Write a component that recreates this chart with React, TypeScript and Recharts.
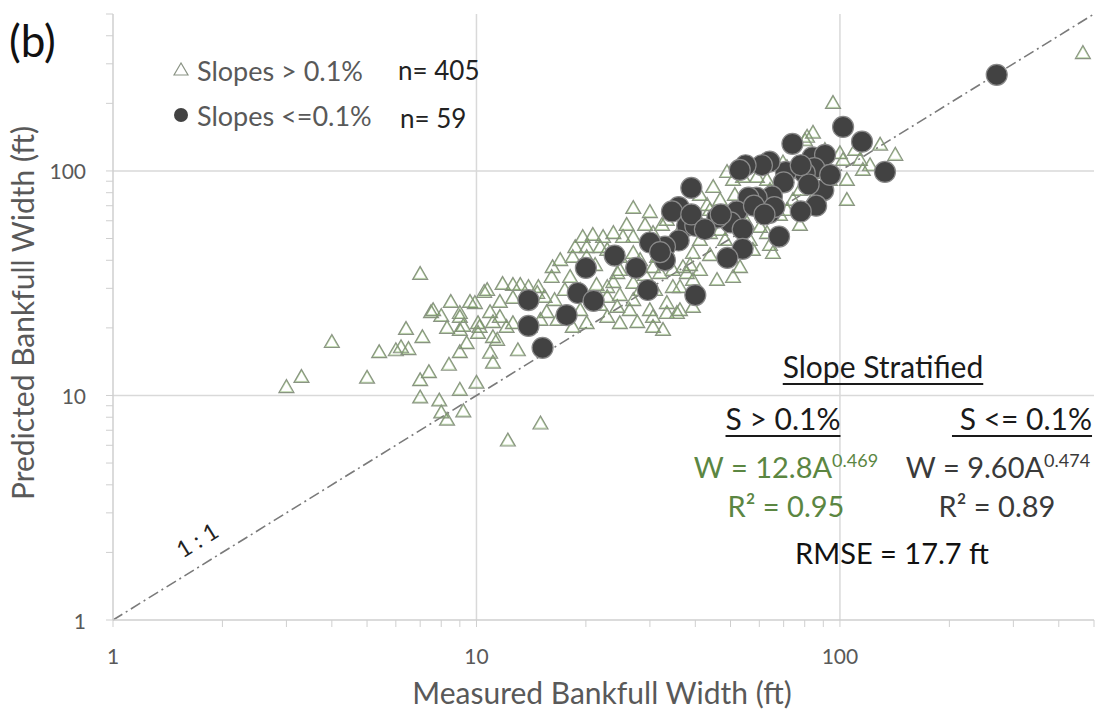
import { ReferenceLine, Scatter, ScatterChart, XAxis, YAxis } from 'recharts';

// [measured width (ft), predicted width (ft)] for slopes > 0.1%
const steepSlopePoints: [number, number][] = [
  [3.0, 10.9], [3.3, 12.1], [4.0, 17.3], [5.0, 12.0], [7.0, 34.8], [5.4, 15.6], [6.0, 15.9],
  [6.2, 16.4], [6.5, 16.1], [6.4, 19.8], [7.1, 18.2], [7.5, 23.5], [8.0, 22.6], [8.5, 26.1],
  [9.0, 23.3], [9.6, 26.1], [9.9, 25.8], [10.5, 28.9], [10.9, 23.5], [11.1, 21.2], [9.2, 20.4],
  [8.3, 20.0], [9.0, 15.6], [8.4, 13.7], [7.4, 12.7], [7.0, 11.7], [7.0, 9.8], [7.9, 9.5],
  [8.0, 8.4], [8.3, 7.8], [9.0, 10.6], [9.2, 8.5], [10.0, 11.4], [9.4, 17.1], [10.2, 20.2],
  [11.1, 18.2], [10.9, 15.5], [11.1, 14.0], [12.2, 6.3], [15.0, 7.5], [11.8, 31.4], [12.6, 31.1],
  [11.6, 26.1], [10.1, 21.0], [11.4, 17.7], [13.0, 15.9],
  [7.6, 24.0], [9.0, 22.4], [9.0, 19.6], [10.1, 19.0], [13.9, 30.4], [14.7, 28.6], [15.4, 27.5],
  [16.2, 37.3], [18.1, 33.7], [17.0, 40.1], [18.4, 41.4], [20.1, 45.8], [19.6, 50.8], [20.9, 51.9],
  [22.3, 50.8], [23.8, 52.9], [25.3, 50.8], [27.0, 50.8], [20.1, 41.4], [22.9, 44.5], [24.8, 41.4],
  [28.2, 40.1], [30.6, 37.3], [27.0, 68.4], [30.0, 65.6], [33.4, 60.5], [30.6, 52.9], [27.0, 43.1],
  [24.4, 35.1], [22.9, 30.4], [27.0, 31.7], [27.0, 26.6], [30.0, 24.0], [33.4, 23.3], [32.6, 19.6],
  [30.6, 20.2], [36.3, 24.0], [39.4, 24.8], [45.9, 32.7], [50.8, 33.7], [53.1, 37.3], [49.8, 41.4],
  [56.5, 49.3], [63.0, 52.9], [65.4, 43.1], [60.3, 56.3], [48.9, 98.9], [44.8, 84.8], [50.8, 91.2],
  [54.1, 94], [63.0, 91.2], [69.7, 94], [69.7, 109], [81.2, 142], [84.3, 148], [95.7, 201],
  [100, 120], [102, 112], [104.5, 91.2], [104.5, 74.3], [93.8, 91.2], [81.2, 88.3], [77.6, 82.3],
  [74.3, 74.3], [71.5, 67], [60.3, 67], [55.5, 58.6], [43.9, 67], [37.9, 56.3], [41.2, 49.3],
  [39.4, 43.1], [37.0, 37.3], [39.4, 32.7], [34.7, 30.4], [32.4, 57.5], [21.9, 45.8], [16.1, 33.7],
  [14.8, 30.4], [13.2, 31.1], [10.7, 29.5], [12.6, 27.2], [15.6, 23.5], [16.7, 21.7], [19.3, 24.0],
  [21.4, 31.1], [23.8, 32.0], [24.8, 36.2], [22.9, 27.5], [24.4, 24.8], [22.9, 22.4], [26.4, 24.0],
  [27.7, 21.2], [24.8, 21.0], [30.6, 22.4], [33.4, 25.8], [35.6, 23.3], [32.0, 35.1], [34.7, 36.2],
  [36.3, 30.4], [31.4, 41.4], [33.4, 44.5], [20.1, 21.0], [18.4, 20.2], [14.0, 20.2], [12.6, 21.0],
  [11.6, 22.4], [12.1, 20.2], [80.1, 137], [129, 131], [142, 118], [113.5, 112], [121, 106],
  [89.2, 98], [71.5, 104], [43.1, 70.5], [41.2, 56.3], [43.9, 52.9], [59.1, 94], [57.6, 44.5],
  [466, 335], [115.6, 101], [46.8, 74.3], [51.4, 78.2], [41.2, 78.2], [36.3, 54.6], [29.1, 57.5],
  [25.9, 57.5], [18.7, 45.8], [17.5, 29.5], [21.2, 38.1], [29.1, 34.4], [38.7, 38.1], [43.9, 42.2],
  [48.3, 49.3], [53.1, 67], [64.2, 82.3], [85.3, 78.2], [90.9, 124], [110, 124], [64.2, 46.8],
  [68.4, 63.7], [77.6, 57.5], [28.2, 29.5], [21.9, 25.3], [19.3, 29.5], [16.4, 26.6], [14.0, 26.6],
  [15.0, 21.7], [24.8, 28.0], [31.0, 29.5], [41.2, 36.2], [46.8, 54.6], [37.9, 35.1],
];

// [measured width (ft), predicted width (ft)] for slopes <= 0.1%
const flatSlopePoints: [number, number][] = [
  [102, 157], [115, 135], [133, 99], [270, 268], [74, 132], [84, 115], [91, 118], [85, 103],
  [80, 98], [71, 99], [70, 89], [64, 110], [61, 106], [55, 106], [90, 82], [86, 70], [78, 66],
  [68, 51], [65, 77], [64, 65], [59, 76], [56, 76], [52, 66], [50, 59], [54, 55], [54, 45],
  [49, 41], [46, 62], [39, 84], [36, 69], [34.5, 66], [38, 57], [40, 57], [36, 49], [33, 46],
  [33, 40], [30, 48], [27.5, 37], [24, 42], [20, 37], [19, 28.6], [21, 26.4], [17.7, 22.8],
  [13.9, 26.6], [13.9, 20.4], [15.2, 16.3], [29.6, 29.5], [40, 28], [66, 69], [58, 70], [82, 87],
  [53, 101], [32, 43.5], [39, 64], [78, 106], [42.5, 55], [62, 64], [47, 64], [94, 96],
];

const xTicks = [1, 2, 3, 4, 5, 6, 7, 8, 9, 10, 20, 30, 40, 50, 60, 70, 80, 90, 100, 200, 300, 400, 500];
const yTicks = xTicks;
const majorTicks = [1, 10, 100];
const gridValues = [10, 100];
const oneToOne = [1, 500];

const steepData = steepSlopePoints.map(([x, y]) => ({ x, y }));
const flatData = flatSlopePoints.map(([x, y]) => ({ x, y }));

const FONT = 'Lato, "Open Sans", sans-serif';
const AXIS_GRAY = '#595959';
const GRID = '#d9d9d9';
const GREEN = '#5b8642';

function TriangleMark(props: any) {
  const { cx, cy } = props;
  if (cx == null || cy == null) return null;
  return (
    <g>
      <polygon
        points={`${cx},${cy - 7.5} ${cx - 7.5},${cy + 5.5} ${cx + 7.5},${cy + 5.5}`}
        fill="none"
        stroke="#8a9384"
        strokeWidth={1.2}
      />
      <polygon
        points={`${cx},${cy - 6} ${cx - 6},${cy + 4.5} ${cx + 6},${cy + 4.5}`}
        fill="none"
        stroke="#5a9a2e"
        strokeWidth={0.7}
        strokeOpacity={0.5}
      />
    </g>
  );
}

function CircleMark(props: any) {
  const { cx, cy } = props;
  if (cx == null || cy == null) return null;
  return <circle cx={cx} cy={cy} r={10.5} fill="#424242" stroke="#8a8a8a" strokeWidth={1.2} />;
}

function XTick(props: any) {
  const { x, y, payload } = props;
  if (!majorTicks.includes(payload.value)) return null;
  return (
    <text x={x} y={y} textAnchor="middle" dominantBaseline="central" fill={AXIS_GRAY} fontSize={21} fontFamily={FONT}>
      {payload.value}
    </text>
  );
}

function YTick(props: any) {
  const { x, y, payload } = props;
  if (!majorTicks.includes(payload.value)) return null;
  return (
    <text x={x} y={y} textAnchor="end" dominantBaseline="central" fill={AXIS_GRAY} fontSize={21} fontFamily={FONT}>
      {payload.value}
    </text>
  );
}

const abs = (left: number, top: number, extra: React.CSSProperties = {}): React.CSSProperties => ({
  position: 'absolute',
  left,
  top,
  whiteSpace: 'nowrap',
  lineHeight: 1,
  fontFamily: FONT,
  ...extra,
});

const centered = { transform: 'translate(-50%, -50%)' };
const underline = { textDecoration: 'underline', textUnderlineOffset: 5, textDecorationThickness: 2 };

export default function App() {
  return (
    <div style={{ position: 'relative', width: 1095, height: 711, background: '#fff' }}>
      <style>{'body { margin: 0; }'}</style>
      <ScatterChart width={1095} height={711} margin={{ top: 14, right: 1, left: 0, bottom: 0 }}>
        <XAxis
          type="number"
          dataKey="x"
          scale="log"
          domain={[1, 500]}
          allowDataOverflow
          ticks={xTicks}
          interval={0}
          height={91}
          tick={<XTick />}
          tickSize={7}
          tickMargin={28}
          axisLine={{ stroke: '#cfcfcf', strokeWidth: 1.5 }}
          tickLine={{ stroke: '#cfcfcf' }}
        />
        <YAxis
          type="number"
          dataKey="y"
          scale="log"
          domain={[1, 500]}
          allowDataOverflow
          ticks={yTicks}
          interval={0}
          width={113}
          tick={<YTick />}
          tickSize={7}
          tickMargin={20}
          axisLine={{ stroke: '#cfcfcf', strokeWidth: 1.5 }}
          tickLine={{ stroke: '#cfcfcf' }}
        />
        {gridValues.map((v) => (
          <ReferenceLine key={`gx${v}`} x={v} stroke={GRID} strokeWidth={1.5} />
        ))}
        {gridValues.map((v) => (
          <ReferenceLine key={`gy${v}`} y={v} stroke={GRID} strokeWidth={1.5} />
        ))}
        <ReferenceLine
          segment={[
            { x: oneToOne[0], y: oneToOne[0] },
            { x: oneToOne[1], y: oneToOne[1] },
          ]}
          stroke="#7a7a7a"
          strokeWidth={1.6}
          strokeDasharray="11 4 2 4"
        />
        <Scatter data={steepData} shape={<TriangleMark />} isAnimationActive={false} />
        <Scatter data={flatData} shape={<CircleMark />} isAnimationActive={false} />
      </ScatterChart>

      <div style={abs(9, 18, { fontSize: 44, color: '#111' })}>(b)</div>

      <svg style={{ position: 'absolute', left: 173, top: 62 }} width={18} height={64}>
        <polygon points="8,1 1,13 15,13" fill="none" stroke="#8a9384" strokeWidth={1.2} />
        <circle cx={8} cy={53} r={7} fill="#424242" />
      </svg>
      <div style={abs(197, 70, { fontSize: 27, color: AXIS_GRAY, transform: 'translateY(-50%)' })}>Slopes &gt; 0.1%</div>
      <div style={abs(398, 70, { fontSize: 26, color: '#222', transform: 'translateY(-50%)' })}>n= 405</div>
      <div style={abs(197, 115, { fontSize: 27, color: AXIS_GRAY, transform: 'translateY(-50%)' })}>Slopes &lt;=0.1%</div>
      <div style={abs(400, 118, { fontSize: 26, color: '#222', transform: 'translateY(-50%)' })}>n= 59</div>

      <div style={abs(197, 540, { fontSize: 23, color: '#222', transform: 'translate(-50%, -50%) rotate(-31.7deg)' })}>1 : 1</div>

      <div style={abs(883, 366, { fontSize: 30, color: '#1a1a1a', ...centered, ...underline })}>Slope Stratified</div>
      <div style={abs(783, 418, { fontSize: 30, color: '#1a1a1a', ...centered, ...underline })}>S &gt; 0.1%</div>
      <div style={abs(1022, 418, { fontSize: 30, color: '#1a1a1a', ...centered, ...underline })}>&nbsp;S &lt;= 0.1%</div>
      <div style={abs(786, 466, { fontSize: 29, color: GREEN, ...centered })}>
        W = 12.8A<sup style={{ fontSize: 18 }}>0.469</sup>
      </div>
      <div style={abs(998, 466, { fontSize: 29, color: '#3a3a3a', ...centered })}>
        W = 9.60A<sup style={{ fontSize: 18 }}>0.474</sup>
      </div>
      <div style={abs(786, 505, { fontSize: 29, color: GREEN, ...centered })}>R² = 0.95</div>
      <div style={abs(997, 505, { fontSize: 29, color: '#3a3a3a', ...centered })}>R² = 0.89</div>
      <div style={abs(892, 552, { fontSize: 29, color: '#111', ...centered })}>RMSE = 17.7 ft</div>

      <div style={abs(602, 692, { fontSize: 30, color: AXIS_GRAY, ...centered })}>Measured Bankfull Width (ft)</div>
      <div style={abs(22, 313, { fontSize: 30, color: AXIS_GRAY, transform: 'translate(-50%, -50%) rotate(-90deg)' })}>
        Predicted Bankfull Width (ft)
      </div>
    </div>
  );
}
